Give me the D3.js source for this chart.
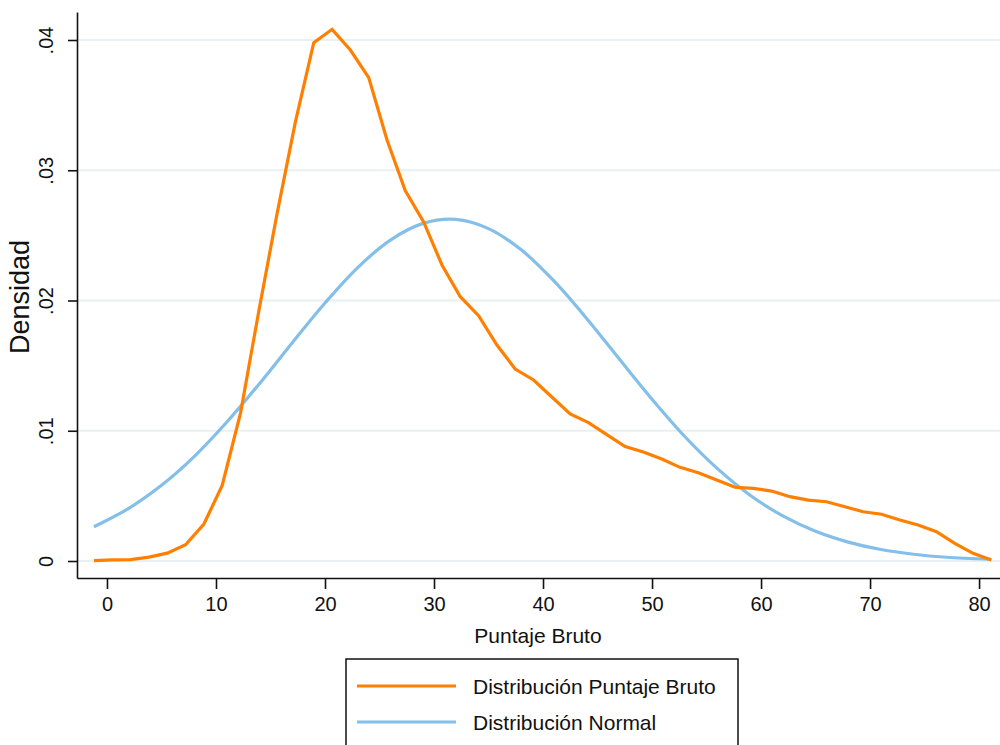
<!DOCTYPE html>
<html><head><meta charset="utf-8">
<script src="https://cdn.jsdelivr.net/npm/d3@7"></script>
<style>html,body{margin:0;padding:0;background:#fff;}svg{display:block;font-family:"Liberation Sans",Arial,sans-serif;}</style>
</head><body>
<svg id="chart" width="1000" height="745"></svg>
<script>
// Kernel density of "Puntaje Bruto"
const kdX = [-1.19,0.49,2.17,3.85,5.53,7.21,8.89,10.57,12.25,13.93,15.61,17.29,18.97,20.65,22.33,24.01,25.69,27.37,29.05,30.73,32.41,34.09,35.77,37.45,39.13,40.81,42.49,44.17,45.85,47.53,49.21,50.89,52.57,54.25,55.93,57.61,59.29,60.97,62.65,64.33,66.01,67.69,69.37,71.05,72.73,74.41,76.09,77.77,79.45,81.13];
const kdY = [0.00003,0.00008,0.00010,0.00030,0.00060,0.00125,0.00284,0.00580,0.01136,0.01919,0.02670,0.03373,0.03979,0.04082,0.03923,0.03711,0.03232,0.02843,0.02603,0.02273,0.02029,0.01883,0.01658,0.01474,0.01390,0.01259,0.01129,0.01062,0.00970,0.00878,0.00837,0.00783,0.00719,0.00678,0.00622,0.00566,0.00558,0.00537,0.00494,0.00468,0.00455,0.00417,0.00378,0.00359,0.00315,0.00276,0.00225,0.00136,0.00059,0.00008];
// Normal reference curve
const nmX = [-1.2,2,5,8,11,14,17,20,23,26,29,32,35,38,41,44,47,50,53,56,59,62,65,68,71,74,77,81.1];
const nmY = [0.00263,0.00404,0.00581,0.00802,0.01067,0.01363,0.01676,0.01981,0.02253,0.02464,0.02592,0.02623,0.02552,0.02389,0.02150,0.01862,0.01550,0.01242,0.00956,0.00709,0.00505,0.00346,0.00228,0.00145,0.00088,0.00052,0.00029,0.00013];
const xTicks = [0,10,20,30,40,50,60,70,80];
const yTicks = [0,0.01,0.02,0.03,0.04];
const yTickLabels = ["0",".01",".02",".03",".04"];
const seriesNames = ["Distribución Puntaje Bruto","Distribución Normal"];
const seriesColors = ["#ff7f00","#83bfe8"];
const xTitle = "Puntaje Bruto";
const yTitle = "Densidad";

const svg = d3.select("#chart");
const pLeft = 77, pRight = 1000, pTop = 12, pBottom = 578;
const x = d3.scaleLinear().domain([-2.75, 81.92]).range([pLeft, pRight]);
const y = d3.scaleLinear().domain([-0.001305, 0.04215]).range([pBottom, pTop]);

// gridlines
svg.append("g").selectAll("line").data(yTicks).join("line")
  .attr("x1", pLeft).attr("x2", pRight)
  .attr("y1", d => y(d)).attr("y2", d => y(d))
  .attr("stroke", "#e8f0f2").attr("stroke-width", 2);

// y axis
const yAxis = svg.append("g").attr("transform", `translate(${pLeft},0)`)
  .call(d3.axisLeft(y).tickValues(yTicks).tickFormat((d,i)=>yTickLabels[i]).tickSize(9).tickSizeOuter(0));
yAxis.select(".domain").attr("stroke","#111").attr("stroke-width",1.6);
yAxis.selectAll(".tick line").attr("stroke","#111").attr("stroke-width",1.6);
yAxis.selectAll(".tick text").attr("font-size",20).attr("fill","#111")
  .attr("text-anchor","middle").attr("x",0).attr("dy",0)
  .attr("transform","translate(-31,0) rotate(-90)").attr("dominant-baseline","central");

// x axis
const xAxis = svg.append("g").attr("transform", `translate(0,${pBottom})`)
  .call(d3.axisBottom(x).tickValues(xTicks).tickSize(11).tickSizeOuter(0));
xAxis.select(".domain").attr("stroke","#111").attr("stroke-width",1.6);
xAxis.selectAll(".tick line").attr("stroke","#111").attr("stroke-width",1.6);
xAxis.selectAll(".tick text").attr("font-size",20).attr("fill","#111").attr("y",26).attr("dy",0)
  .attr("dominant-baseline","central");

// titles
svg.append("text").attr("x",538).attr("y",643).attr("text-anchor","middle")
  .attr("font-size",21).attr("fill","#111").text(xTitle);
svg.append("text").attr("transform","translate(29,297) rotate(-90)").attr("text-anchor","middle")
  .attr("font-size",27).attr("fill","#111").text(yTitle);

// lines
const line = d3.line().x(d => x(d[0])).y(d => y(d[1]));
const smooth = d3.line().x(d => x(d[0])).y(d => y(d[1])).curve(d3.curveCatmullRom.alpha(0.5));
svg.append("path").datum(nmX.map((v,i)=>[v,nmY[i]])).attr("d", smooth)
  .attr("fill","none").attr("stroke",seriesColors[1]).attr("stroke-width",3.2);
svg.append("path").datum(kdX.map((v,i)=>[v,kdY[i]])).attr("d", line)
  .attr("fill","none").attr("stroke",seriesColors[0]).attr("stroke-width",3.2).attr("stroke-linejoin","miter");

// legend
const lg = svg.append("g");
lg.append("rect").attr("x",346).attr("y",659).attr("width",392).attr("height",100)
  .attr("fill","#fff").attr("stroke","#111").attr("stroke-width",1.5);
seriesNames.forEach((n,i) => {
  const yy = 686 + i*36;
  lg.append("line").attr("x1",357).attr("x2",456).attr("y1",yy).attr("y2",yy)
    .attr("stroke",seriesColors[i]).attr("stroke-width",3.2);
  lg.append("text").attr("x",473).attr("y",yy).attr("dy","0.36em")
    .attr("font-size",21).attr("fill","#111").text(n);
});
</script>
</body></html>
